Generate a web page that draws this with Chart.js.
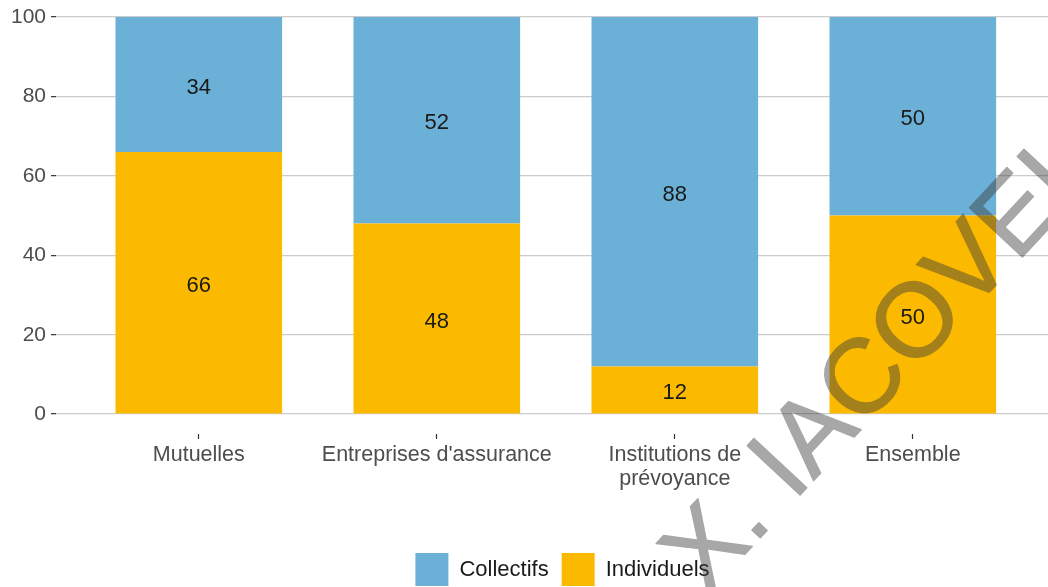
<!DOCTYPE html>
<html>
<head>
<meta charset="utf-8">
<script src="https://cdn.jsdelivr.net/npm/chart.js@4/dist/chart.umd.min.js"></script>
<style>
  html, body { margin: 0; padding: 0; background: #ffffff; overflow: hidden; width: 1048px; height: 587px; }
  #wrap { position: absolute; left: 0; top: 0; width: 1125px; height: 596px; }
</style>
</head>
<body>
<div id="wrap"><canvas id="chart" width="1125" height="596"></canvas></div>
<script>
// Répartition des contrats (en %) par type d'organisme
const categories = ['Mutuelles', "Entreprises d'assurance", ['Institutions de', 'prévoyance'], 'Ensemble'];
const individuels = [66, 48, 12, 50];
const collectifs = [34, 52, 88, 50];
const yTicks = [0, 20, 40, 60, 80, 100];

const FONT = "'Liberation Sans', Arial, Helvetica, sans-serif";
const BLUE = '#6bb0d6';
const YELLOW = '#fbba00';

const toPoints = arr => arr.map((v, i) => ({ x: i + 1, y: v }));

// Valeurs écrites au centre de chaque segment
const segmentLabels = {
  id: 'segmentLabels',
  afterDatasetsDraw(chart) {
    const ctx = chart.ctx;
    ctx.save();
    ctx.font = '22px ' + FONT;
    ctx.fillStyle = '#1a1a1a';
    ctx.textAlign = 'center';
    ctx.textBaseline = 'middle';
    chart.data.datasets.forEach((ds, di) => {
      const meta = chart.getDatasetMeta(di);
      meta.data.forEach((bar, i) => {
        const p = bar.getProps(['x', 'y', 'base'], true);
        ctx.fillText(String(ds.data[i].y), p.x, (p.y + p.base) / 2 + 3);
      });
    });
    ctx.restore();
  }
};

// Filigrane en diagonale, semi-transparent
const watermark = {
  id: 'watermark',
  afterDraw(chart) {
    const off = document.createElement('canvas');
    off.width = chart.width;
    off.height = chart.height;
    const o = off.getContext('2d');
    o.translate(706, 596);
    o.rotate(-47 * Math.PI / 180);
    o.font = '105px ' + FONT;
    o.fillStyle = '#3c3c3c';
    o.strokeStyle = '#3c3c3c';
    o.lineWidth = 1.5;
    o.lineJoin = 'round';
    o.fillText('X. IACOVELLA', 0, 0);
    o.strokeText('X. IACOVELLA', 0, 0);
    const ctx = chart.ctx;
    ctx.save();
    ctx.setTransform(1, 0, 0, 1, 0, 0);
    ctx.globalAlpha = 0.45;
    ctx.drawImage(off, 0, 0);
    ctx.restore();
  }
};

new Chart(document.getElementById('chart'), {
  type: 'bar',
  data: {
    datasets: [
      { label: 'Individuels', data: toPoints(individuels), backgroundColor: YELLOW, borderWidth: 0 },
      { label: 'Collectifs', data: toPoints(collectifs), backgroundColor: BLUE, borderWidth: 0 }
    ]
  },
  options: {
    responsive: false,
    animation: false,
    devicePixelRatio: 1,
    layout: { padding: 0 },
    datasets: { bar: { barPercentage: 0.7, categoryPercentage: 1.0 } },
    scales: {
      x: {
        type: 'linear',
        stacked: true,
        offset: false,
        min: 0.4,
        max: 0.4 + (1125 - 56) / 238,
        afterBuildTicks(scale) { scale.ticks = categories.map((c, i) => ({ value: i + 1 })); },
        afterFit(scale) { scale.height = 106; scale.paddingLeft = 0; scale.paddingRight = 0; },
        border: { display: false },
        grid: { offset: false, drawOnChartArea: false, drawTicks: true, tickLength: 5, tickColor: '#333333', tickWidth: 1.2 },
        ticks: {
          autoSkip: false,
          maxRotation: 0,
          padding: 4,
          color: '#4d4d4d',
          font: { family: FONT, size: 21.5, lineHeight: 1.12 },
          callback: (v) => categories[Math.round(v) - 1]
        }
      },
      y: {
        stacked: true,
        min: -5,
        max: 100 + 17 / 3.962,
        afterBuildTicks(scale) { scale.ticks = yTicks.map(v => ({ value: v })); },
        afterFit(scale) { scale.width = 56; scale.paddingTop = 0; scale.paddingBottom = 0; },
        border: { display: false },
        grid: { color: '#cccccc', lineWidth: 1.3, tickLength: 5, tickColor: '#333333', tickWidth: 1.2 },
        ticks: {
          padding: 5,
          color: '#4d4d4d',
          font: { family: FONT, size: 21 }
        }
      }
    },
    plugins: {
      legend: {
        position: 'bottom',
        reverse: true,
        labels: {
          boxWidth: 33,
          boxHeight: 33,
          padding: 13,
          color: '#1a1a1a',
          font: { family: FONT, size: 22 }
        }
      },
      tooltip: { enabled: false }
    }
  },
  plugins: [segmentLabels, watermark]
});
</script>
</body>
</html>
